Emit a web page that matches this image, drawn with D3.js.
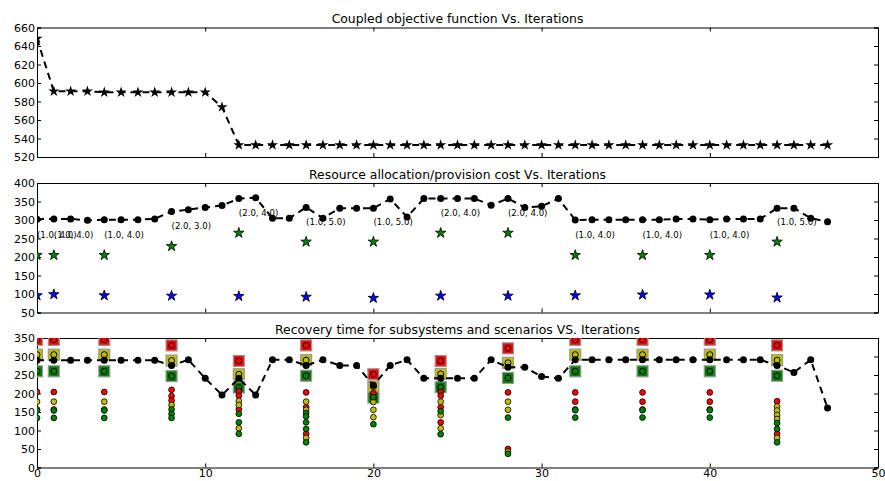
<!DOCTYPE html>
<html>
<head>
<meta charset="utf-8">
<script src="https://cdn.jsdelivr.net/npm/d3@7"></script>
<style>
  body { margin: 0; background: #fff; }
  text { font-family: "DejaVu Sans", sans-serif; }
</style>
</head>
<body>
<script>
// valeurs
const iterations = d3.range(48)

const objective = [648, 591, 591, 591, 590, 590, 590, 590, 590, 590, 590, 574,
  533, 533, 533, 533, 533, 533, 533, 533, 533, 533, 533, 533,
  533, 533, 533, 533, 533, 533, 533, 533, 533, 533, 533, 533,
  533, 533, 533, 533, 533, 533, 533, 533, 533, 533, 533, 533]

const cost = [302, 303, 303, 299, 301, 301, 301, 303, 323, 328, 334, 339,
  358, 360, 305, 305, 334, 305, 332, 332, 332, 357, 308, 358,
  358, 358, 358, 340, 358, 334, 337, 358, 300, 301, 301, 301,
  301, 301, 303, 303, 301, 303, 303, 303, 332, 332, 305, 295]

const recovery = [290, 290, 290, 290, 290, 290, 290, 290, 276, 291, 241, 196,
  241, 196, 291, 291, 276, 291, 276, 276, 222, 276, 291, 241,
  241, 241, 241, 291, 271, 271, 246, 241, 291, 291, 291, 291,
  291, 291, 291, 291, 291, 291, 291, 291, 276, 257, 291, 161]

const checkIters = [0, 1, 4, 8, 12, 16, 20, 24, 28, 32, 36, 40, 44]
const greenStars = [205, 205, 205, 229, 265, 241, 241, 265, 265, 205, 205, 205, 241]
const blueStars = [96, 99, 96, 95, 94, 92, 89, 95, 95, 96, 98, 98, 90]
const pairLabels = ['(1.0, 4.0)', '(1.0, 4.0)', '(1.0, 4.0)', '(2.0, 3.0)', '(2.0, 4.0)',
  '(1.0, 5.0)', '(1.0, 5.0)', '(2.0, 4.0)', '(2.0, 4.0)', '(1.0, 4.0)', '(1.0, 4.0)',
  '(1.0, 4.0)', '(1.0, 5.0)']

const redSquares = [345, 345, 345, 330, 288, 330, 252, 288, 322, 345, 345, 345, 330]
const yellowSquares = [305, 305, 305, 289, 252, 290, 219, 253, 283, 305, 305, 305, 290]
const greenSquares = [260, 260, 260, 247, 216, 248, 189, 217, 242, 260, 260, 260, 248]

const redDots = [[204], [204], [204], [210, 193, 181], [206, 194, 157], [203, 163, 91],
  [201], [204, 194, 163, 122], [203, 50], [203, 178], [203, 178], [203, 178], [179, 91]]
const yellowDots = [[178, 157], [178, 157], [178, 157], [169], [180, 169, 106], [178, 156, 80],
  [177, 156, 136], [178, 142, 106], [178, 156, 43], [157], [157], [157], [165, 154, 142, 131, 80]]
const greenDots = [[154, 134], [154, 134], [154, 134], [157, 145, 134], [145, 122, 91],
  [147, 138, 122, 104, 68], [190, 117], [152, 90], [135, 37], [155, 135], [155, 135],
  [155, 135], [120, 104, 68]]

const titles = ['Coupled objective function Vs. Iterations',
  'Resource allocation/provision cost Vs. Iterations',
  'Recovery time for subsystems and scenarios VS. Iterations']
const xTicks = [0, 10, 20, 30, 40, 50]
const yTicksTop = [520, 540, 560, 580, 600, 620, 640, 660]
const yTicksMid = [50, 100, 150, 200, 250, 300, 350, 400]
const yTicksBot = [0, 50, 100, 150, 200, 250, 300, 350]

const WIDTH = 885
const HEIGHT = 481
const LEFT = 37
const RIGHT = 878
const PANEL_H = 129.5
const tops = [27.5, 183, 338]

const RED = '#ff0000'
const YELLOW = '#bfbf00'
const GREEN = '#008000'
const BLUE = '#0000ff'

const svg = d3.select('body')
  .append('svg')
  .attr('width', WIDTH)
  .attr('height', HEIGHT)

const x = d3.scaleLinear().domain([0, 50]).range([LEFT, RIGHT])

function panel(i, yDomain, yTicks, showXLabels) {
  const top = tops[i]
  const bottom = top + PANEL_H
  const y = d3.scaleLinear().domain(yDomain).range([bottom, top])

  svg.append('clipPath')
    .attr('id', 'clip' + i)
    .append('rect')
    .attr('x', LEFT)
    .attr('y', top)
    .attr('width', RIGHT - LEFT)
    .attr('height', PANEL_H)

  const axes = svg.append('g')
  axes.append('g')
    .attr('transform', `translate(0,${bottom})`)
    .call(d3.axisBottom(x).tickValues(xTicks).tickSize(-4).tickPadding(2)
      .tickFormat(showXLabels ? d3.format('d') : () => ''))
  axes.append('g')
    .attr('transform', `translate(0,${top})`)
    .call(d3.axisTop(x).tickValues(xTicks).tickSize(-4).tickFormat(() => ''))
  axes.append('g')
    .attr('transform', `translate(${LEFT},0)`)
    .call(d3.axisLeft(y).tickValues(yTicks).tickSize(-4).tickPadding(2))
  axes.append('g')
    .attr('transform', `translate(${RIGHT},0)`)
    .call(d3.axisRight(y).tickValues(yTicks).tickSize(-4).tickFormat(() => ''))

  axes.selectAll('.domain').attr('stroke', '#000').attr('stroke-width', 1)
  axes.selectAll('.tick line').attr('stroke', '#000')
  axes.selectAll('.tick text')
    .attr('font-size', 11)
    .attr('font-family', '"DejaVu Sans", sans-serif')
    .attr('fill', '#000')

  svg.append('text')
    .attr('x', (LEFT + RIGHT) / 2)
    .attr('y', top - 4.5)
    .attr('text-anchor', 'middle')
    .attr('font-size', 12.4)
    .text(titles[i])

  const plot = svg.append('g').attr('clip-path', `url(#clip${i})`)
  return { y, plot }
}

function dashedLine(plot, y, values) {
  const line = d3.line()
    .x((d, i) => x(iterations[i]))
    .y(d => y(d))
  plot.append('path')
    .datum(values)
    .attr('d', line)
    .attr('fill', 'none')
    .attr('stroke', '#000')
    .attr('stroke-width', 2)
    .attr('stroke-dasharray', '7,5')
}

const starPath = d3.symbol().type(d3.symbolStar)

// 1. fonction objectif
const p1 = panel(0, [520, 660], yTicksTop, false)
dashedLine(p1.plot, p1.y, objective)
p1.plot.selectAll('.star')
  .data(objective)
  .enter()
  .append('path')
  .attr('d', starPath.size(38)())
  .attr('transform', (d, i) => `translate(${x(iterations[i])},${p1.y(d)})`)
  .attr('fill', '#000')

// 2. coût d'allocation
const p2 = panel(1, [50, 400], yTicksMid, false)
dashedLine(p2.plot, p2.y, cost)
p2.plot.selectAll('.dot')
  .data(cost)
  .enter()
  .append('circle')
  .attr('cx', (d, i) => x(iterations[i]))
  .attr('cy', d => p2.y(d))
  .attr('r', 3.5)
  .attr('fill', '#000')

p2.plot.selectAll('.pair')
  .data(pairLabels)
  .enter()
  .append('text')
  .attr('x', (d, i) => x(checkIters[i]))
  .attr('y', (d, i) => p2.y(greenStars[i] + 54))
  .attr('dy', '0.35em')
  .attr('font-size', 8.6)
  .attr('fill', '#000')
  .text(d => d)

const starsMid = [[greenStars, GREEN], [blueStars, BLUE]]
starsMid.forEach(([vals, color]) => {
  p2.plot.append('g')
    .selectAll('path')
    .data(vals)
    .enter()
    .append('path')
    .attr('d', starPath.size(34)())
    .attr('transform', (d, i) => `translate(${x(checkIters[i])},${p2.y(d)})`)
    .attr('fill', color)
    .attr('stroke', '#000')
    .attr('stroke-width', 0.8)
})

// 3. temps de récupération
const p3 = panel(2, [0, 350], yTicksBot, true)

const squares = [[redSquares, RED], [yellowSquares, YELLOW], [greenSquares, GREEN]]
squares.forEach(([vals, color]) => {
  const g = p3.plot.append('g')
  g.selectAll('rect')
    .data(vals)
    .enter()
    .append('rect')
    .attr('x', (d, i) => x(checkIters[i]) - 5.5)
    .attr('y', d => p3.y(d) - 5.5)
    .attr('width', 11)
    .attr('height', 11)
    .attr('fill', color)
    .attr('stroke', '#999')
    .attr('stroke-width', 1.2)
  g.selectAll('circle')
    .data(vals)
    .enter()
    .append('circle')
    .attr('cx', (d, i) => x(checkIters[i]))
    .attr('cy', d => p3.y(d))
    .attr('r', 3)
    .attr('fill', 'none')
    .attr('stroke', '#000')
    .attr('stroke-width', 1)
})

const dotSets = [[redDots, RED], [yellowDots, YELLOW], [greenDots, GREEN]]
dotSets.forEach(([sets, color]) => {
  const pts = sets.flatMap((vals, i) => vals.map(v => [checkIters[i], v]))
  p3.plot.append('g')
    .selectAll('circle')
    .data(pts)
    .enter()
    .append('circle')
    .attr('cx', d => x(d[0]))
    .attr('cy', d => p3.y(d[1]))
    .attr('r', 2.9)
    .attr('fill', color)
    .attr('stroke', '#000')
    .attr('stroke-width', 0.8)
})

dashedLine(p3.plot, p3.y, recovery)
p3.plot.selectAll('.dot')
  .data(recovery)
  .enter()
  .append('circle')
  .attr('cx', (d, i) => x(iterations[i]))
  .attr('cy', d => p3.y(d))
  .attr('r', 3.5)
  .attr('fill', '#000')
</script>
</body>
</html>
